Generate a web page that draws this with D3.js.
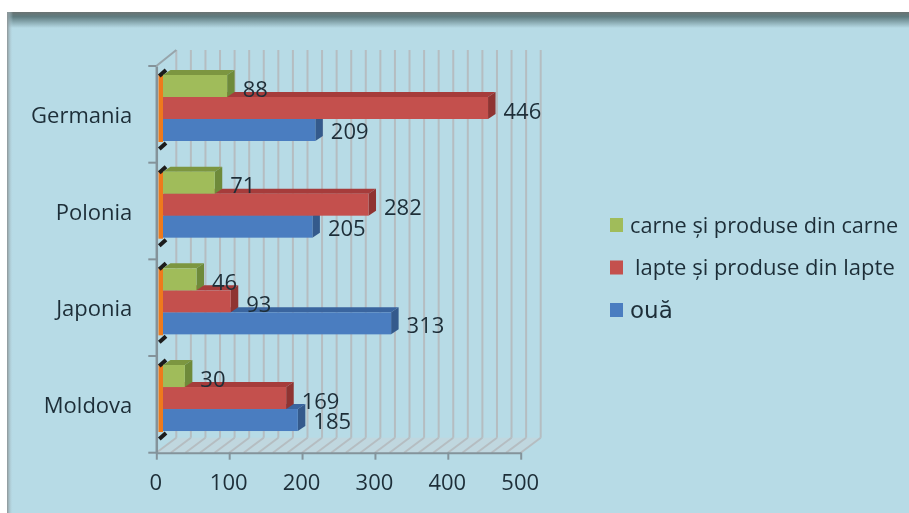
<!DOCTYPE html>
<html>
<head>
<meta charset="utf-8">
<style>
html, body { margin: 0; padding: 0; background: #fff; overflow: hidden; }
svg { display: block; filter: blur(0.5px); }
text { font-family: "Open Sans", sans-serif; fill: #1d2e38; }
</style>
<script src="https://cdn.jsdelivr.net/npm/d3@7"></script>
</head>
<body>
<svg id="chart" width="909" height="513"></svg>
<script>
var categories = ['Germania', 'Polonia', 'Japonia', 'Moldova']
var seriesNames = ['carne și produse din carne', 'lapte și produse din lapte', 'ouă']
var carne = [88, 71, 46, 30]
var lapte = [446, 282, 93, 169]
var oua = [209, 205, 313, 185]
var xTicks = [0, 100, 200, 300, 400, 500]
var gridValues = d3.range(0, 501, 20)

var front = ['#a0bc5a', '#c4504d', '#4a7dc0']
var topFace = ['#7c9640', '#a63c3b', '#3a659f']
var sideFace = ['#6e8a3a', '#8f3432', '#345a8c']

var svg = d3.select('#chart')
var defs = svg.append('defs')

// panel with dark fades on top and left
var topGrad = defs.append('linearGradient').attr('id', 'fadeTop').attr('x1', 0).attr('x2', 0).attr('y1', 0).attr('y2', 1)
topGrad.append('stop').attr('offset', 0).attr('stop-color', '#6a7372')
topGrad.append('stop').attr('offset', 0.3).attr('stop-color', '#5f7c80')
topGrad.append('stop').attr('offset', 1).attr('stop-color', '#b7dbe6')
var leftGrad = defs.append('linearGradient').attr('id', 'fadeLeft')
leftGrad.append('stop').attr('offset', 0).attr('stop-color', '#8d9496')
leftGrad.append('stop').attr('offset', 1).attr('stop-color', '#b7dbe6').attr('stop-opacity', 0)

svg.append('rect').attr('x', 7).attr('y', 12).attr('width', 902).attr('height', 501).attr('fill', '#b7dbe6')
svg.append('rect').attr('x', 7).attr('y', 12).attr('width', 902).attr('height', 16).attr('fill', 'url(#fadeTop)')
svg.append('rect').attr('x', 7).attr('y', 12).attr('width', 6).attr('height', 501).attr('fill', 'url(#fadeLeft)')

var x = d3.scaleLinear().domain([0, 500]).range([156.3, 520.7])
var y = d3.scaleBand().domain(categories).range([66, 452.7])
var bottom = y.range()[1]
var wall = {dx: 20, dy: 15}
var gridColor = '#b5bdc1'

// floor
var floor = [[x(0), bottom], [x(0) + wall.dx, bottom - wall.dy], [x(500) + wall.dx, bottom - wall.dy], [x(500), bottom]]
svg.append('polygon').attr('points', floor.join(' ')).attr('fill', '#c0d7df')

var grid = svg.append('g').attr('fill', 'none').attr('stroke', gridColor).attr('stroke-width', 2)
grid.selectAll('.back').data(gridValues).enter().append('line')
    .attr('x1', function(d) { return x(d) + wall.dx })
    .attr('x2', function(d) { return x(d) + wall.dx })
    .attr('y1', y.range()[0] - wall.dy - 1)
    .attr('y2', bottom - wall.dy)
grid.selectAll('.floor').data(gridValues).enter().append('line')
    .attr('x1', function(d) { return x(d) })
    .attr('x2', function(d) { return x(d) + wall.dx })
    .attr('y1', bottom)
    .attr('y2', bottom - wall.dy)
grid.append('line')
    .attr('x1', x(0)).attr('x2', x(0) + wall.dx)
    .attr('y1', y.range()[0]).attr('y2', y.range()[0] - wall.dy - 1)
    .attr('stroke', '#98a5ab')

// axes
var xAxis = svg.append('g').attr('transform', 'translate(0,' + bottom + ')')
    .call(d3.axisBottom(x).tickValues(xTicks).tickSizeInner(7).tickSizeOuter(0).tickPadding(15))
var yAxis = svg.append('g').attr('transform', 'translate(' + x(0) + ',0)')
    .call(d3.axisLeft(y).tickSize(0).tickPadding(24))
xAxis.selectAll('.domain, line').attr('stroke', '#84939a').attr('stroke-width', 2)
yAxis.select('.domain').attr('stroke', '#84939a').attr('stroke-width', 2.5)
xAxis.selectAll('text').attr('font-size', 22).attr('fill', '#1d2e38').attr('font-family', '"Open Sans", sans-serif').attr('dx', -1)
yAxis.selectAll('text').attr('font-size', 22).attr('fill', '#1d2e38').attr('font-family', '"Open Sans", sans-serif').attr('y', 1.5)

var boundaries = categories.map(function(c) { return y(c) }).concat([bottom])
svg.selectAll('.catTick').data(boundaries).enter().append('line')
    .attr('x1', x(0) - 8).attr('x2', x(0))
    .attr('y1', function(d) { return d }).attr('y2', function(d) { return d })
    .attr('stroke', '#84939a').attr('stroke-width', 2)

// bars
var inner = d3.scaleBand().domain(d3.range(3)).range([9, 75])
var depth = {dx: 7.5, dy: 5}
var barStart = x(0) + 6.7
var rows = categories.map(function(c, i) { return {cat: c, values: [carne[i], lapte[i], oua[i]]} })

var groups = svg.selectAll('.cat').data(rows).enter().append('g')
    .attr('transform', function(d) { return 'translate(0,' + y(d.cat) + ')' })

// black stubs and orange end strip
groups.append('rect')
    .attr('x', x(0) + 2.2).attr('y', inner(0) - 1).attr('width', 4.5).attr('height', inner.range()[1] - inner(0) + 2)
    .attr('fill', '#ee7a1c')
groups.selectAll('.stub').data([inner(0), inner.range()[1] + 7]).enter().append('line')
    .attr('x1', x(0) + 3).attr('x2', barStart + 3)
    .attr('y1', function(d) { return d + 1 })
    .attr('y2', function(d) { return d - 5 })
    .attr('stroke', '#1c1c1c').attr('stroke-width', 4)

// blue first so each upper bar covers the top face of the one below it
;[2, 1, 0].forEach(function(s) {
    var bar = groups.append('g')
    bar.append('polygon')
        .attr('fill', topFace[s])
        .attr('points', function(d) {
            var end = barStart + x(d.values[s]) - x(0), t = inner(s)
            return [[barStart, t], [barStart + depth.dx, t - depth.dy], [end + depth.dx, t - depth.dy], [end, t]].join(' ')
        })
    bar.append('polygon')
        .attr('fill', sideFace[s])
        .attr('points', function(d) {
            var end = barStart + x(d.values[s]) - x(0), t = inner(s), b = t + inner.bandwidth()
            return [[end, t], [end + depth.dx, t - depth.dy], [end + depth.dx, b - depth.dy], [end, b]].join(' ')
        })
    bar.append('rect')
        .attr('fill', front[s])
        .attr('x', barStart)
        .attr('y', inner(s))
        .attr('width', function(d) { return x(d.values[s]) - x(0) })
        .attr('height', inner.bandwidth())
})

// data labels on top of every bar
;[0, 1, 2].forEach(function(s) {
    groups.append('text')
        .attr('x', function(d) { return barStart + x(d.values[s]) - x(0) + depth.dx + 8 })
        .attr('y', inner(s) + inner.bandwidth() / 2 + (s == 2 ? 1.5 : 3))
        .attr('dy', '0.35em')
        .attr('font-size', 22)
        .text(function(d) { return d.values[s] })
})

// legend
var legendY = d3.scalePoint().domain(seriesNames).range([225, 310])
var legendSize = [21.7, 22, 23]
var legend = svg.selectAll('.legend').data(seriesNames).enter().append('g')
    .attr('transform', function(d) { return 'translate(610,' + legendY(d) + ')' })
legend.append('rect').attr('x', 0).attr('y', -7).attr('width', 13).attr('height', 14)
    .attr('fill', function(d, i) { return front[i] })
legend.append('text')
    .attr('x', function(d, i) { return i == 1 ? 25 : 20 })
    .attr('dy', '0.35em')
    .attr('font-size', function(d, i) { return legendSize[i] })
    .style('font-family', function(d, i) { return i == 2 ? '"DejaVu Sans"' : null })
    .text(function(d) { return d })
</script>
</body>
</html>
